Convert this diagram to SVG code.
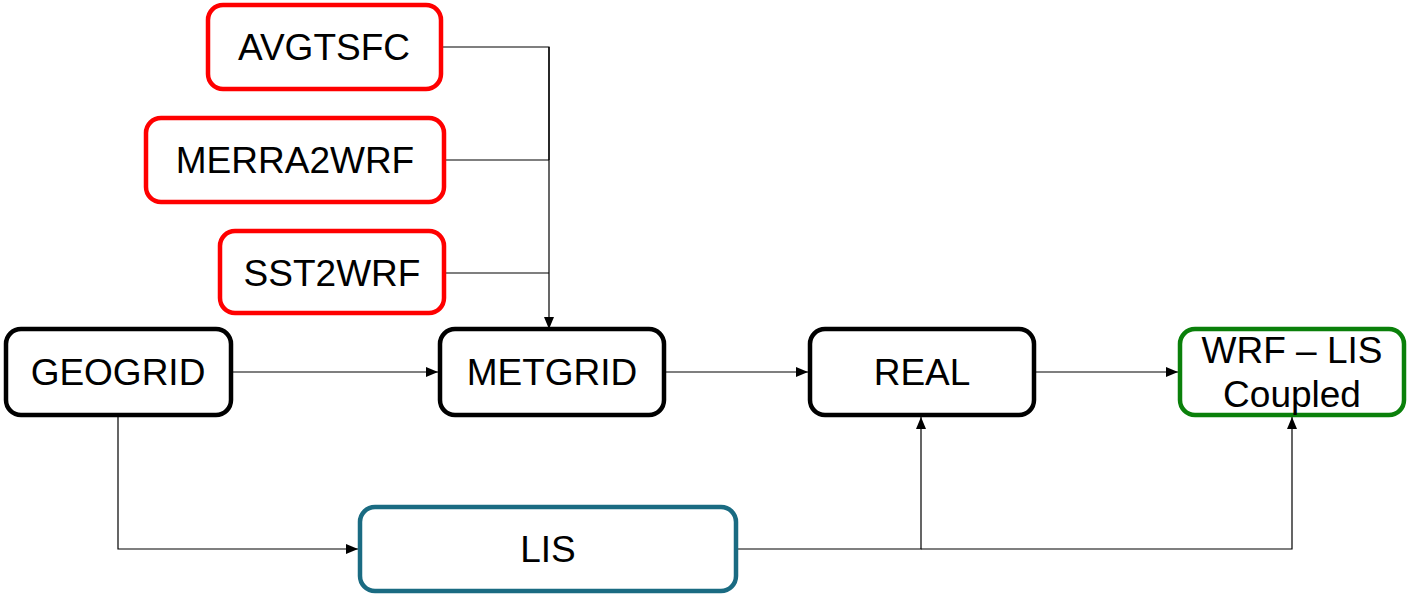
<svg xmlns="http://www.w3.org/2000/svg" width="1419" height="595" viewBox="0 0 1419 595">
<style>
.box{fill:#fff;stroke-width:4.5}
.k{stroke:#000}
.r{stroke:#ff0000}
.t{stroke:#1a6b82}
.g{stroke:#0a800a}
text{font-family:"Liberation Sans",Arial,sans-serif;font-size:37px;fill:#000;text-anchor:middle}
.c{fill:none;stroke:#000;stroke-width:1.2}
</style>
<defs>
<marker id="ah" markerUnits="userSpaceOnUse" markerWidth="12" markerHeight="12" viewBox="0 0 12 12" refX="12" refY="6" orient="auto">
<path d="M0,1 L12,6 L0,11 Z" fill="#000"/>
</marker>
</defs>
<g id="connectors">
<polyline class="c" points="443,47 549,47 549,160"/>
<polyline class="c" points="446,160 549,160"/>
<polyline class="c" points="446,273 549,273"/>
<line class="c" x1="549" y1="47" x2="549" y2="329" marker-end="url(#ah)"/>
<line class="c" x1="233" y1="372" x2="438" y2="372" marker-end="url(#ah)"/>
<line class="c" x1="666" y1="372" x2="808" y2="372" marker-end="url(#ah)"/>
<line class="c" x1="1036" y1="372" x2="1178" y2="372" marker-end="url(#ah)"/>
<polyline class="c" points="118,417 118,549 358,549" marker-end="url(#ah)"/>
<polyline class="c" points="737,549 921,549 921,417" marker-end="url(#ah)"/>
<polyline class="c" points="921,549 1292,549 1292,417" marker-end="url(#ah)"/>
</g>
<g id="avgtsfc"><rect class="box r" x="208" y="5" width="233" height="84" rx="15"/><text x="324" y="60">AVGTSFC</text></g>
<g id="merra2wrf"><rect class="box r" x="146" y="118" width="298" height="84" rx="15"/><text x="295" y="173">MERRA2WRF</text></g>
<g id="sst2wrf"><rect class="box r" x="220" y="231" width="224" height="82" rx="15"/><text x="332" y="286">SST2WRF</text></g>
<g id="geogrid"><rect class="box k" x="6" y="329" width="225" height="86" rx="15"/><text x="118" y="385">GEOGRID</text></g>
<g id="metgrid"><rect class="box k" x="440" y="329" width="224" height="86" rx="15"/><text x="552" y="385">METGRID</text></g>
<g id="real"><rect class="box k" x="810" y="329" width="224" height="86" rx="15"/><text x="922" y="385">REAL</text></g>
<g id="wrf-lis"><rect class="box g" x="1180" y="329" width="224" height="86" rx="15"/><text x="1292" y="363">WRF – LIS</text><text x="1292" y="407">Coupled</text></g>
<g id="lis"><rect class="box t" x="360" y="507" width="376" height="84" rx="15"/><text x="548" y="562">LIS</text></g>
</svg>
